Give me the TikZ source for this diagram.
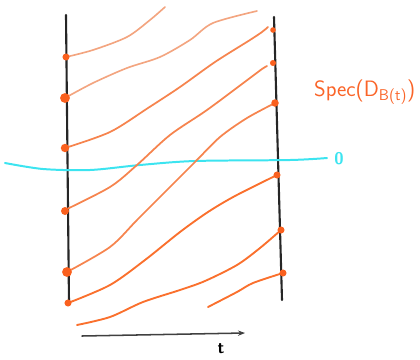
\documentclass[tikz,border=0pt]{standalone}
\usetikzlibrary{arrows.meta}
\definecolor{flowcol}{RGB}{246,132,78}
\definecolor{flowdeep}{RGB}{250,112,45}
\definecolor{flowpale}{RGB}{243,165,128}
\definecolor{dotcol}{RGB}{250,96,30}
\definecolor{labelcol}{RGB}{250,100,40}
\definecolor{zerocol}{RGB}{60,228,240}
\tikzset{
  wall/.style={line width=1.8pt, black!85},
  flowline/.style={line width=1.5pt, flowcol},
  deepline/.style={line width=1.6pt, flowdeep},
  paleline/.style={line width=1.4pt, flowpale},
  eigdot/.style={fill=dotcol, draw=none}
}
\begin{document}
\begin{tikzpicture}[x=0.03cm, y=-0.03cm, line cap=round, line join=round]
    % pixel grid of the sketch: (0,0) top left, y grows downwards
    \useasboundingbox (0,0) rectangle (420,359);

    % the two time slices
    \draw[wall] (66,15) -- (69,303);
    \draw[wall] (274,17) -- (282,300);

    % zero level
    \draw[line width=1.7pt, zerocol] plot[smooth] coordinates
      {(5,163) (43,169) (90,170) (140,165) (195,161) (290,160) (327,158)};
    \node[zerocol, font=\sffamily\bfseries\Large] (zero) at (339,159) {0};

    % eigenvalue branches, bottom to top

    % branch 8 (starts inside)
    \draw[deepline] plot[smooth] coordinates
      {(208,307) (237,292) (253,283) (283,273)};
    \filldraw[eigdot] (283,273) circle (3pt);

    % branch 7
    \draw[deepline] plot[smooth] coordinates
      {(77,325) (110,317) (143,302) (180,290) (205,281) (237,265) (260,248) (281,230)};
    \filldraw[eigdot] (281,230) circle (3pt);

    % branch 6
    \draw[deepline] plot[smooth] coordinates
      {(68,303) (110,285) (145,260) (180,232) (208,212) (235,196) (277,175)};
    \filldraw[eigdot] (68,303) circle (3pt);
    \filldraw[eigdot] (277,175) circle (3pt);

    % branch 5 (crosses zero)
    \draw[flowline] plot[smooth] coordinates
      {(67,272) (110,247) (137,220) (165,192) (195,162) (220,137) (247,118) (275,103)};
    \filldraw[eigdot] (67,272) circle (4.2pt);
    \filldraw[eigdot] (275,103) circle (3.2pt);

    % branch 4
    \draw[flowline] plot[smooth] coordinates
      {(65,210) (110,187) (137,165) (170,135) (207,110) (250,78) (262,69) (267,66)};
    \filldraw[eigdot] (65,211) circle (3.4pt);
    \filldraw[eigdot] (273,63) circle (2.6pt);

    % branch 3
    \draw[flowline] plot[smooth] coordinates
      {(65,148) (110,132) (148,108) (180,87) (215,62) (250,40) (262,32) (268,27)};
    \filldraw[eigdot] (65,148) circle (3.6pt);
    \filldraw[eigdot] (273,30) circle (2.4pt);

    % branch 2
    \draw[paleline] plot[smooth] coordinates
      {(65,98) (93,83) (127,68) (160,57) (190,40) (213,23) (257,11)};
    \filldraw[eigdot] (65,98) circle (4.2pt);

    % branch 1
    \draw[paleline] plot[smooth] coordinates
      {(66,57) (93,50) (127,37) (150,20) (165,7)};
    \filldraw[eigdot] (66,57) circle (3pt);

    % spectrum label
    \node[text=labelcol, anchor=west, font=\sffamily\fontsize{19}{22}\selectfont]
      (spec) at (310,92) {Spec(D\textsubscript{B(t)})};

    % time axis
    \coordinate (tstart) at (82,336);
    \coordinate (tend) at (245,333);
    \draw[line width=1.3pt, black!75, -{Stealth[length=6pt]}] (tstart) -- (tend);
    \node[font=\sffamily\bfseries\Large] (tlabel) at (221,349) {t};

  \end{tikzpicture}
\end{document}
